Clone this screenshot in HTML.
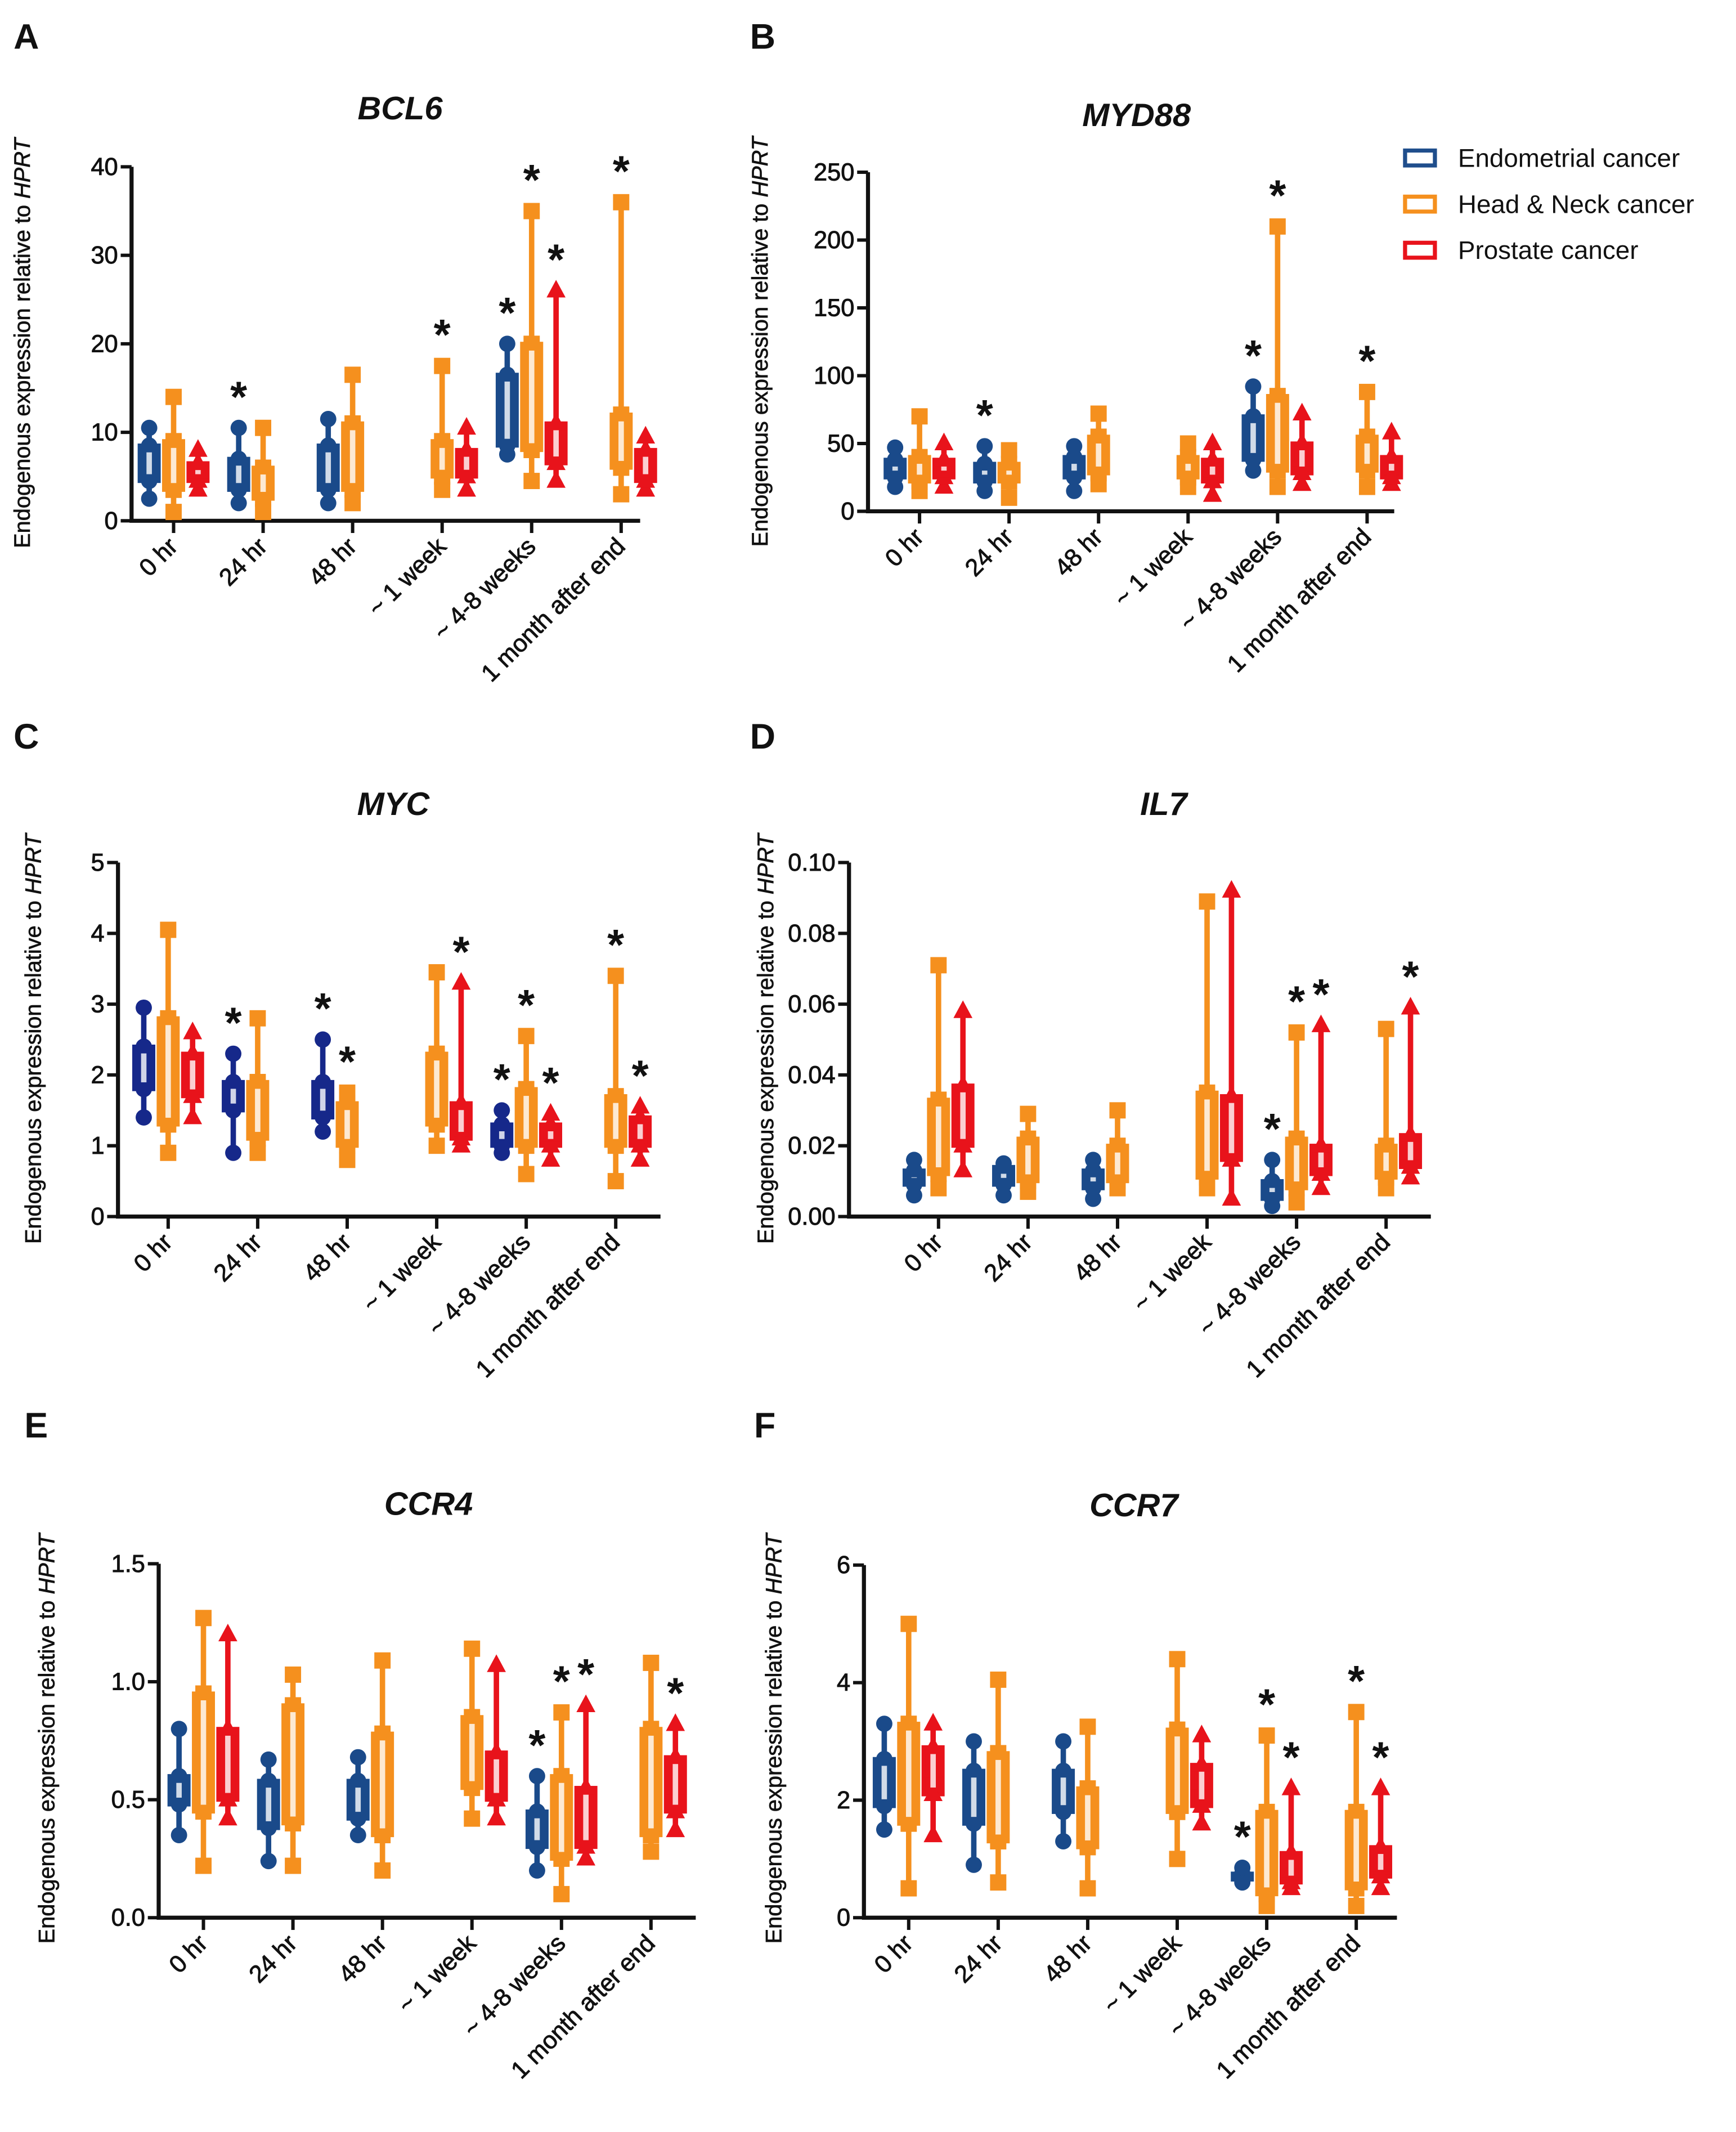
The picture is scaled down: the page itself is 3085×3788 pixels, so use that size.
<!DOCTYPE html>
<html><head><meta charset="utf-8">
<style>
html,body{margin:0;padding:0;background:#fff;}
svg{display:block;font-family:"Liberation Sans",Arial,sans-serif;}
</style></head>
<body>
<svg id="fig" width="3085" height="3788" viewBox="0 0 1280 1572" preserveAspectRatio="none" xmlns="http://www.w3.org/2000/svg">
<rect x="0" y="0" width="1280" height="1572" fill="#fff"/>
<g>
  <g><rect x="1036" y="111" width="22" height="11" fill="#fff" stroke="#1f4e8c" stroke-width="3"/><text x="1075" y="123" font-size="19" fill="#111">Endometrial cancer</text></g>
  <g><rect x="1036" y="145" width="22" height="11" fill="#fff" stroke="#f5901e" stroke-width="3"/><text x="1075" y="157" font-size="19" fill="#111">Head &amp; Neck cancer</text></g>
  <g><rect x="1036" y="179" width="22" height="11" fill="#fff" stroke="#e8131b" stroke-width="3"/><text x="1075" y="191" font-size="19" fill="#111">Prostate cancer</text></g>
</g>
</svg>
<script>
const categories = ["0 hr","24 hr","48 hr","~ 1 week","~ 4-8 weeks","1 month after end"];
// each value: [min, q1, median, q3, max]; null = no group
const bcl6Endo = [[2.5,4.5,6.5,8.5,10.5],[2,3.5,5,7,10.5],[2,3.5,6.5,8.5,11.5],null,[7.5,8.5,11,16.5,20],null];
const bcl6HN = [[1,3.5,5.5,9,14],[1,2.5,4,6,10.5],[2,3.5,5,11,16.5],[3.5,5,6.5,9,17.5],[4.5,8,14,20,35],[3,6,9,12,36]];
const bcl6Pro = [[3.5,4.5,5.5,6.5,8],null,null,[3.5,5,6,8,10.5],[4.5,6.5,9,11,26],[3.5,4.5,6,8,9.5]];
const bcl6Stars = [[0,1,0,0,1,0],[0,0,0,1,1,1],[0,0,0,0,1,0]];
const bcl6Ticks = [0,10,20,30,40];

const myd88Endo = [[18,25,32,38,47],[15,22,28,35,48],[15,25,32,40,48],null,[30,38,50,70,92],null];
const myd88HN = [[15,22,30,40,70],[10,22,28,35,45],[20,28,40,55,72],[18,25,32,40,50],[18,30,45,85,210],[18,30,38,55,88]];
const myd88Pro = [[18,25,30,38,50],null,null,[12,22,30,38,50],[20,28,38,50,72],[20,25,32,40,58]];
const myd88Stars = [[0,1,0,0,1,0],[0,0,0,0,1,1],[0,0,0,0,0,0]];
const myd88Ticks = [0,50,100,150,200,250];

const mycEndo = [[1.4,1.8,2.1,2.4,2.95],[0.9,1.5,1.8,1.9,2.3],[1.2,1.4,1.7,1.9,2.5],null,[0.9,1.0,1.15,1.3,1.5],null];
const mycHN = [[0.9,1.3,2.0,2.8,4.05],[0.9,1.1,1.4,1.9,2.8],[0.8,1.0,1.2,1.6,1.75],[1.0,1.3,1.7,2.3,3.45],[0.6,1.0,1.3,1.8,2.55],[0.5,1.0,1.2,1.7,3.4]];
const mycPro = [[1.4,1.7,1.9,2.3,2.6],null,null,[1.0,1.1,1.3,1.6,3.3],[0.8,1.0,1.15,1.3,1.45],[0.8,1.0,1.2,1.4,1.55]];
const mycStars = [[0,1,1,0,1,0],[0,0,1,0,1,1],[0,0,0,1,1,1]];
const mycTicks = [0,1,2,3,4,5];

const il7Endo = [[0.006,0.009,0.011,0.013,0.016],[0.006,0.009,0.011,0.014,0.015],[0.005,0.008,0.01,0.013,0.016],null,[0.003,0.005,0.007,0.01,0.016],null];
const il7HN = [[0.008,0.012,0.018,0.033,0.071],[0.007,0.01,0.013,0.022,0.029],[0.008,0.01,0.015,0.02,0.03],[0.008,0.011,0.016,0.035,0.089],[0.004,0.008,0.013,0.022,0.052],[0.008,0.011,0.014,0.02,0.053]];
const il7Pro = [[0.013,0.02,0.029,0.037,0.058],null,null,[0.005,0.016,0.026,0.034,0.092],[0.008,0.012,0.016,0.02,0.054],[0.011,0.014,0.018,0.023,0.059]];
const il7Stars = [[0,0,0,0,1,0],[0,0,0,0,1,0],[0,0,0,0,1,1]];
const il7Ticks = [0,0.02,0.04,0.06,0.08,0.10];

const ccr4Endo = [[0.35,0.48,0.55,0.6,0.8],[0.24,0.38,0.5,0.58,0.67],[0.35,0.42,0.5,0.58,0.68],null,[0.2,0.3,0.38,0.45,0.6],null];
const ccr4HN = [[0.22,0.45,0.75,0.95,1.27],[0.22,0.4,0.6,0.9,1.03],[0.2,0.35,0.55,0.78,1.09],[0.42,0.55,0.7,0.85,1.14],[0.1,0.25,0.4,0.6,0.87],[0.28,0.35,0.55,0.8,1.08]];
const ccr4Pro = [[0.42,0.5,0.65,0.8,1.2],null,null,[0.42,0.5,0.65,0.7,1.07],[0.25,0.3,0.45,0.55,0.9],[0.37,0.45,0.55,0.68,0.82]];
const ccr4Stars = [[0,0,0,0,1,0],[0,0,0,0,1,0],[0,0,0,0,1,1]];
const ccr4Ticks = [0,0.5,1.0,1.5];

const ccr7Endo = [[1.5,1.9,2.3,2.7,3.3],[0.9,1.6,2.0,2.5,3.0],[1.3,1.8,2.1,2.5,3.0],null,[0.6,0.65,0.7,0.75,0.85],null];
const ccr7HN = [[0.5,1.6,2.4,3.3,5.0],[0.6,1.3,1.9,2.8,4.05],[0.5,1.2,1.8,2.2,3.25],[1.0,1.8,2.5,3.2,4.4],[0.2,0.4,0.8,1.8,3.1],[0.2,0.5,0.9,1.8,3.5]];
const ccr7Pro = [[1.4,2.1,2.5,2.9,3.3],null,null,[1.6,1.9,2.3,2.6,3.1],[0.5,0.6,0.8,1.1,2.2],[0.5,0.7,0.9,1.2,2.2]];
const ccr7Stars = [[0,0,0,0,1,0],[0,0,0,0,1,1],[0,0,0,0,1,1]];
const ccr7Ticks = [0,2,4,6];

const NS = "http://www.w3.org/2000/svg";
const svg = document.getElementById('fig');
const COLORS = ["#1a4a8a","#f5901e","#e8131b"];
function mk(tag, attrs, parent){const e=document.createElementNS(NS,tag);for(const k in attrs)e.setAttribute(k,attrs[k]);(parent||svg).appendChild(e);return e;}

const panels = [
 {id:"bcl6",letter:"A",lx:10,ly:36,title:"BCL6",tx:295,ty:88,ax:97,top:123,bot:384,end:472,x0:128,ymax:40,ticks:bcl6Ticks,dec:0,ytx:22,yty:253,series:[bcl6Endo,bcl6HN,bcl6Pro],stars:bcl6Stars,endoColor:"#1a4a8a"},
 {id:"myd88",letter:"B",lx:553,ly:36,title:"MYD88",tx:838,ty:93,ax:640,top:127,bot:377,end:1028,x0:678,ymax:250,ticks:myd88Ticks,dec:0,ytx:566,yty:252,series:[myd88Endo,myd88HN,myd88Pro],stars:myd88Stars,endoColor:"#1a4a8a"},
 {id:"myc",letter:"C",lx:10,ly:552,title:"MYC",tx:290,ty:601,ax:87,top:636,bot:897,end:487,x0:124,ymax:5,ticks:mycTicks,dec:0,ytx:30,yty:766,series:[mycEndo,mycHN,mycPro],stars:mycStars,endoColor:"#16288a"},
 {id:"il7",letter:"D",lx:553,ly:552,title:"IL7",tx:858,ty:601,ax:626,top:636,bot:897,end:1055,x0:692,ymax:0.10,ticks:il7Ticks,dec:2,ytx:570,yty:766,series:[il7Endo,il7HN,il7Pro],stars:il7Stars,endoColor:"#1a4a8a"},
 {id:"ccr4",letter:"E",lx:18,ly:1060,title:"CCR4",tx:316,ty:1117,ax:117,top:1153,bot:1414,end:513,x0:150,ymax:1.5,ticks:ccr4Ticks,dec:1,ytx:40,yty:1282,series:[ccr4Endo,ccr4HN,ccr4Pro],stars:ccr4Stars,endoColor:"#1a4a8a"},
 {id:"ccr7",letter:"F",lx:556,ly:1060,title:"CCR7",tx:836,ty:1118,ax:637,top:1154,bot:1414,end:1030,x0:670,ymax:6,ticks:ccr7Ticks,dec:0,ytx:576,yty:1282,series:[ccr7Endo,ccr7HN,ccr7Pro],stars:ccr7Stars,endoColor:"#1a4a8a"}
];
const SPACING = 66, OFF = 18, BW = 14;

function marker(g, si, x, y, col){
  if(si===0) mk('circle',{cx:x,cy:y,r:6,fill:col},g);
  else if(si===1) mk('rect',{x:x-6,y:y-6,width:12,height:12,fill:col},g);
  else mk('polygon',{points:`${x},${y-8} ${x+7},${y+5} ${x-7},${y+5}`,fill:col},g);
}

panels.forEach(p=>{
  const g = mk('g',{});
  
  
  const yS = v => p.bot - v/p.ymax*(p.bot-p.top);
  const xS = (ci,si) => p.x0 + ci*SPACING + (si-1)*OFF;
  const L = mk('text',{x:p.lx,y:p.ly,'font-size':26,'font-weight':'bold',fill:'#111'},g); L.textContent=p.letter;
  
  
  const T = mk('text',{x:p.tx,y:p.ty,'font-size':24,'font-weight':'bold','font-style':'italic','text-anchor':'middle',fill:'#111'},g); T.textContent=p.title;
  
  
  const yt = mk('text',{x:0,y:0,'font-size':16.5,'text-anchor':'middle',fill:'#111','stroke':'#111','stroke-width':0.3,transform:`translate(${p.ytx},${p.yty}) rotate(-90)`},g);
  yt.innerHTML = 'Endogenous expression relative to <tspan font-style="italic">HPRT</tspan>';
  
  
  const ax = mk('path',{d:`M${p.ax},${p.top} V${p.bot} H${p.end}`,stroke:'#111','stroke-width':3,fill:'none'},g);
  
  
  p.ticks.forEach(t=>{
    const y=yS(t);
    mk('line',{x1:p.ax-8,y1:y,x2:p.ax,y2:y,stroke:'#111','stroke-width':2.5},g);
    const tl=mk('text',{x:p.ax-10,y:y+6,'font-size':18,'text-anchor':'end',fill:'#111','stroke':'#111','stroke-width':0.4},g);
    tl.textContent=t.toFixed(p.dec);
    
    
  });
  categories.forEach((c,ci)=>{
    const x=p.x0+ci*SPACING;
    mk('line',{x1:x,y1:p.bot,x2:x,y2:p.bot+9,stroke:'#111','stroke-width':2.5},g);
    const tl=mk('text',{x:0,y:0,'font-size':18,'text-anchor':'end',fill:'#111','stroke':'#111','stroke-width':0.4,transform:`translate(${x+4},${p.bot+20}) rotate(-45)`},g);
    tl.textContent=c;
    
    
  });
  p.series.forEach((ser,si)=>{
    const col = si===0 ? p.endoColor : COLORS[si];
    ser.forEach((st,ci)=>{
      if(!st) return;
      const x=xS(ci,si);
      const bg=mk('g',{},g);
      
      
      mk('line',{x1:x,y1:yS(st[0]),x2:x,y2:yS(st[4]),stroke:col,'stroke-width':4},bg);
      mk('rect',{x:x-BW/2,y:yS(st[3]),width:BW,height:Math.max(1,yS(st[1])-yS(st[3])),fill:col,stroke:col,'stroke-width':3},bg);
      st.forEach(v=>marker(bg,si,x,yS(v),col));
      mk('rect',{x:x-2,y:yS(st[3])+5,width:4,height:Math.max(0,yS(st[1])-yS(st[3])-10),fill:'#fff',opacity:0.8},bg);
      if(p.stars[si][ci]){
        const s=mk('text',{x:x,y:yS(st[4])-12,'font-size':32,'font-weight':'bold','text-anchor':'middle',fill:'#111'},g);
        s.textContent='*';
        
        
      }
    });
  });
});
</script>
</body></html>
